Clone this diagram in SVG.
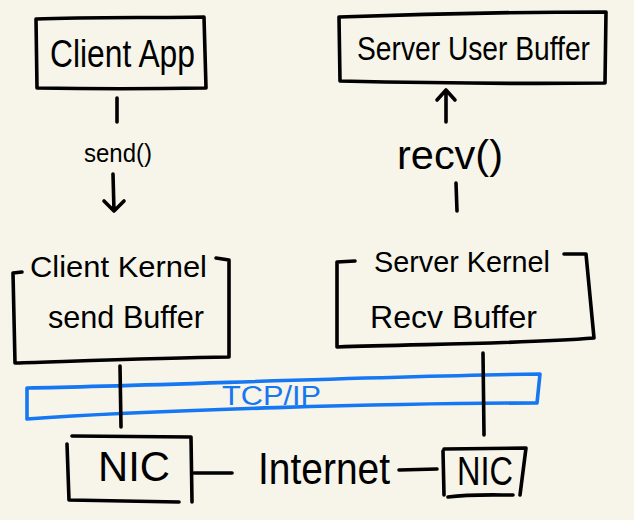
<svg xmlns="http://www.w3.org/2000/svg" width="634" height="520" viewBox="0 0 634 520">
<defs>
<style>
.bg{fill:#f7f5ea}
.s{fill:none;stroke:#000;stroke-width:3.6;stroke-linecap:round;stroke-linejoin:round}
.b{fill:none;stroke:#1677f2;stroke-width:3.6;stroke-linecap:round;stroke-linejoin:round}
.t{font-family:"Liberation Sans","DejaVu Sans",sans-serif;fill:#000}
.tb{font-family:"Liberation Sans","DejaVu Sans",sans-serif;fill:#1677f2}
</style>
</defs>
<rect class="bg" x="0" y="0" width="634" height="520"/>

<g id="client-app">
<path class="s" d="M36 19 C90 17 150 18 204 17 L206 88 C150 89 90 89 37 88 L36 19"/>
<text class="t" x="50" y="67" font-size="38" textLength="145" lengthAdjust="spacingAndGlyphs">Client App</text>
</g>

<g id="server-user-buffer">
<path class="s" d="M339 17 C420 14 520 12 606 12 L605 83 C520 84 430 83 340 81 L339 17"/>
<text class="t" x="357" y="60" font-size="33" textLength="233" lengthAdjust="spacingAndGlyphs">Server User Buffer</text>
</g>

<g id="client-kernel">
<path class="s" d="M22 272 L13 273 L15 363 C80 361 160 358 229 357 L229 260 L216 258"/>
<text class="t" x="30" y="277" font-size="30" textLength="177" lengthAdjust="spacingAndGlyphs">Client Kernel</text>
<text class="t" x="48" y="328" font-size="32" textLength="156" lengthAdjust="spacingAndGlyphs">send Buffer</text>
</g>

<g id="server-kernel">
<path class="s" d="M355 261 L337 262 L337 347 C420 344 520 344 594 338 L586 254 L564 254"/>
<text class="t" x="374" y="272" font-size="30" textLength="176" lengthAdjust="spacingAndGlyphs">Server Kernel</text>
<text class="t" x="370" y="328" font-size="32" textLength="167" lengthAdjust="spacingAndGlyphs">Recv Buffer</text>
</g>

<g id="tcpip">
<path class="b" d="M27 388 C150 386 350 377 540 374 L537 403 C400 403 150 410 27 419 L27 388"/>
<text class="tb" x="222" y="405" font-size="27" textLength="99" lengthAdjust="spacingAndGlyphs">TCP/IP</text>
</g>

<g id="nic-left">
<path class="s" d="M72 436 L191 437 L192 502 M67 444 L69 500 L179 502"/>
<text class="t" x="98" y="481" font-size="42" textLength="72" lengthAdjust="spacingAndGlyphs">NIC</text>
</g>

<g id="internet">
<text class="t" x="258" y="484" font-size="44" textLength="132" lengthAdjust="spacingAndGlyphs">Internet</text>
</g>

<g id="nic-right">
<path class="s" d="M443 451 L444 495 M444 449 L526 448 L520 495 M448 497 C470 494 495 495 513 495"/>
<text class="t" x="457" y="485" font-size="40" textLength="56" lengthAdjust="spacingAndGlyphs">NIC</text>
</g>

<g id="connectors">
<path class="s" d="M117 98 L117 122"/>
<text class="t" x="84" y="162" font-size="26" textLength="68" lengthAdjust="spacingAndGlyphs">send()</text>
<path class="s" d="M113 174 L114 211 M104 201 L114 211 L124 201"/>
<path class="s" d="M446 122 L446 90 M437 100 L446 90 L455 100"/>
<text class="t" x="397" y="169" font-size="40" textLength="106" lengthAdjust="spacingAndGlyphs">recv()</text>
<path class="s" d="M456 183 L457 211"/>
<path class="s" d="M120 366 L121 427"/>
<path class="s" d="M483 353 L484 435"/>
<path class="s" d="M194 473 L232 473"/>
<path class="s" d="M399 470 L437 469"/>
</g>
</svg>
